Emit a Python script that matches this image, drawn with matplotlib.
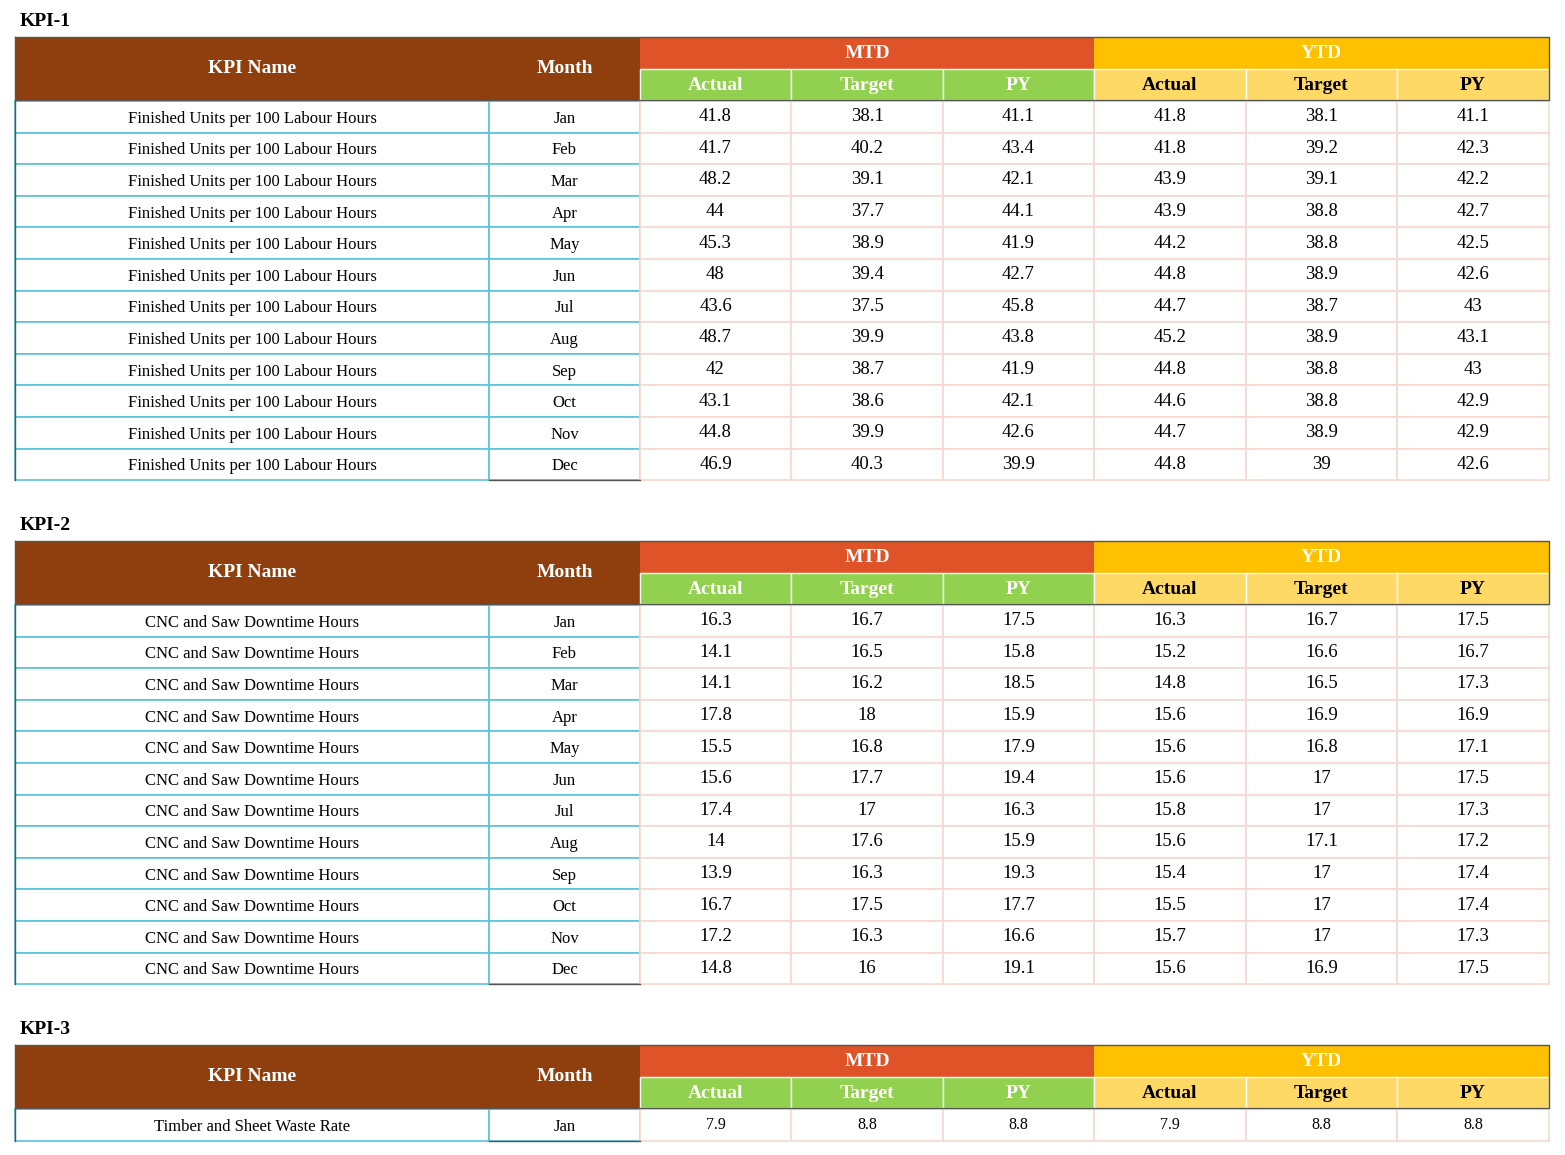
import matplotlib.pyplot as plt
from matplotlib.patches import Rectangle

plt.rcParams['font.family'] = ['Liberation Serif', 'DejaVu Serif']

months = ['Jan', 'Feb', 'Mar', 'Apr', 'May', 'Jun', 'Jul', 'Aug', 'Sep', 'Oct', 'Nov', 'Dec']

kpi1_name = 'Finished Units per 100 Labour Hours'
kpi1_mtd_actual = ['41.8', '41.7', '48.2', '44', '45.3', '48', '43.6', '48.7', '42', '43.1', '44.8', '46.9']
kpi1_mtd_target = ['38.1', '40.2', '39.1', '37.7', '38.9', '39.4', '37.5', '39.9', '38.7', '38.6', '39.9', '40.3']
kpi1_mtd_py = ['41.1', '43.4', '42.1', '44.1', '41.9', '42.7', '45.8', '43.8', '41.9', '42.1', '42.6', '39.9']
kpi1_ytd_actual = ['41.8', '41.8', '43.9', '43.9', '44.2', '44.8', '44.7', '45.2', '44.8', '44.6', '44.7', '44.8']
kpi1_ytd_target = ['38.1', '39.2', '39.1', '38.8', '38.8', '38.9', '38.7', '38.9', '38.8', '38.8', '38.9', '39']
kpi1_ytd_py = ['41.1', '42.3', '42.2', '42.7', '42.5', '42.6', '43', '43.1', '43', '42.9', '42.9', '42.6']

kpi2_name = 'CNC and Saw Downtime Hours'
kpi2_mtd_actual = ['16.3', '14.1', '14.1', '17.8', '15.5', '15.6', '17.4', '14', '13.9', '16.7', '17.2', '14.8']
kpi2_mtd_target = ['16.7', '16.5', '16.2', '18', '16.8', '17.7', '17', '17.6', '16.3', '17.5', '16.3', '16']
kpi2_mtd_py = ['17.5', '15.8', '18.5', '15.9', '17.9', '19.4', '16.3', '15.9', '19.3', '17.7', '16.6', '19.1']
kpi2_ytd_actual = ['16.3', '15.2', '14.8', '15.6', '15.6', '15.6', '15.8', '15.6', '15.4', '15.5', '15.7', '15.6']
kpi2_ytd_target = ['16.7', '16.6', '16.5', '16.9', '16.8', '17', '17', '17.1', '17', '17', '17', '16.9']
kpi2_ytd_py = ['17.5', '16.7', '17.3', '16.9', '17.1', '17.5', '17.3', '17.2', '17.4', '17.4', '17.3', '17.5']

kpi3_name = 'Timber and Sheet Waste Rate'
kpi3_months = ['Jan']
kpi3_vals = [['7.9'], ['8.8'], ['8.8'], ['7.9'], ['8.8'], ['8.8']]

BROWN = '#8F3F0E'
MTD_C = '#E05328'
GREEN = '#92D050'
YTD_C = '#FFC000'
YTD_L = '#FFD966'
CYAN = '#5BC3DB'
PINK = '#F6D9D0'

fig = plt.figure(figsize=(15.65, 11.55), dpi=100)
ax = fig.add_axes([0, 0, 1, 1])
ax.set_xlim(0, 1565)
ax.set_ylim(1155, 0)
ax.axis('off')

x_edges = [15, 489, 640, 791, 943, 1094, 1246, 1397, 1549]


def rect(x0, y0, x1, y1, fc, ec='none', lw=0):
    ax.add_patch(Rectangle((x0, y0), x1 - x0, y1 - y0, facecolor=fc, edgecolor=ec, linewidth=lw))


def draw_table(title, top, name, mlist, cols, row_h=31.6, vsize=13.5):
    ax.text(20, top - 15, title, fontsize=14, fontweight='bold', va='center', ha='left')
    h1 = top + 32
    h2 = top + 63
    rect(x_edges[0], top, x_edges[2], h2, BROWN)
    ax.text((x_edges[0] + x_edges[1]) / 2, (top + h2) / 2, 'KPI Name', color='white', fontsize=14, fontweight='bold', ha='center', va='center')
    ax.text((x_edges[1] + x_edges[2]) / 2, (top + h2) / 2, 'Month', color='white', fontsize=14, fontweight='bold', ha='center', va='center')
    rect(x_edges[2], top, x_edges[5], h1, MTD_C)
    rect(x_edges[5], top, x_edges[8], h1, YTD_C)
    ax.text((x_edges[2] + x_edges[5]) / 2, (top + h1) / 2, 'MTD', color='white', fontsize=14, fontweight='bold', ha='center', va='center')
    ax.text((x_edges[5] + x_edges[8]) / 2, (top + h1) / 2, 'YTD', color='white', fontsize=14, fontweight='bold', ha='center', va='center')
    subs = ['Actual', 'Target', 'PY']
    for i in range(6):
        x0, x1 = x_edges[2 + i], x_edges[3 + i]
        fc = GREEN if i < 3 else YTD_L
        tc = 'white' if i < 3 else 'black'
        rect(x0, h1, x1, h2, fc, ec='white', lw=1)
        ax.text((x0 + x1) / 2, (h1 + h2) / 2 + 1, subs[i % 3], color=tc, fontsize=14, fontweight='bold', ha='center', va='center')
    ax.plot([x_edges[0], x_edges[8], x_edges[8], x_edges[0], x_edges[0]], [top, top, h2, h2, top], color='#555555', lw=1)
    y = h2 + 1
    for r, m in enumerate(mlist):
        y0, y1 = y + r * row_h, y + (r + 1) * row_h
        rect(x_edges[0], y0, x_edges[1], y1, 'white', ec=CYAN, lw=1.2)
        rect(x_edges[1], y0, x_edges[2], y1, 'white', ec=CYAN, lw=1.2)
        ax.text((x_edges[0] + x_edges[1]) / 2, (y0 + y1) / 2 + 2, name, fontsize=12, ha='center', va='center')
        ax.text((x_edges[1] + x_edges[2]) / 2, (y0 + y1) / 2 + 2, m, fontsize=12, ha='center', va='center')
        for i in range(6):
            x0, x1 = x_edges[2 + i], x_edges[3 + i]
            rect(x0, y0, x1, y1, 'white', ec=PINK, lw=1.2)
            ax.text((x0 + x1) / 2, (y0 + y1) / 2, cols[i][r], fontsize=vsize, ha='center', va='center')
    yb = y + len(mlist) * row_h
    ax.plot([x_edges[0], x_edges[0]], [h2, yb], color='#555555', lw=1)
    ax.plot([x_edges[1], x_edges[2]], [yb, yb], color='#555555', lw=1)


draw_table('KPI-1', 37, kpi1_name, months,
           [kpi1_mtd_actual, kpi1_mtd_target, kpi1_mtd_py, kpi1_ytd_actual, kpi1_ytd_target, kpi1_ytd_py])
draw_table('KPI-2', 541, kpi2_name, months,
           [kpi2_mtd_actual, kpi2_mtd_target, kpi2_mtd_py, kpi2_ytd_actual, kpi2_ytd_target, kpi2_ytd_py])
draw_table('KPI-3', 1045, kpi3_name, kpi3_months, kpi3_vals, vsize=11.5)

fig.savefig('out.png', dpi=100, facecolor='white')
